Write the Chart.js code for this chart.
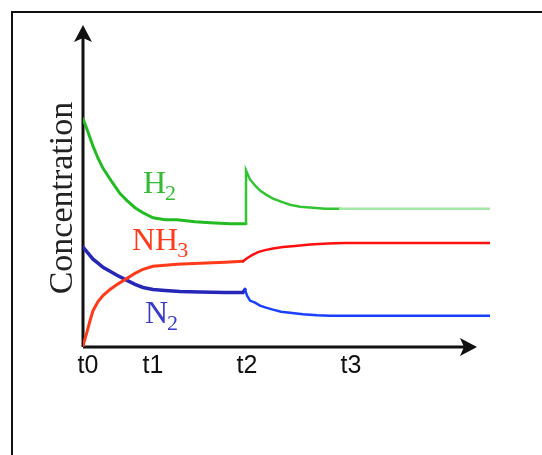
<!DOCTYPE html>
<html>
<head>
<meta charset="utf-8">
<script src="https://cdn.jsdelivr.net/npm/chart.js@4/dist/chart.umd.min.js"></script>
<style>
  html, body { margin:0; padding:0; background:#fff; overflow:hidden; }
  #frame { position:absolute; left:11px; top:11px; width:600px; height:520px; border:2px solid #111; }
  #c { position:absolute; left:0; top:0; }
</style>
</head>
<body>
<div id="frame"></div>
<canvas id="c" width="542" height="455"></canvas>
<script>
// time axis ticks
const tickTimes  = [0.5, 7, 16.4, 26.8];
const tickLabels = ['t0', 't1', 't2', 't3'];

// H2 (drops, jumps up at t2 when H2 is added, then settles)
const h2Time = [0, 0.5, 1, 1.5, 2, 3, 3.7, 4.4, 5.2, 6, 7, 8.2, 9.4, 11.2, 12.7, 14.7, 16.3,
                16.3, 16.7, 17.2, 17.7, 18.3, 19, 19.8, 20.7, 21.7, 23, 24.2, 25.7, 40.7];
const h2Conc = [22.6, 21.3, 19.9, 18.7, 17.7, 16.2, 15.2, 14.5, 13.8, 13.3, 12.8, 12.6, 12.6, 12.4, 12.3, 12.2, 12.2,
                17.5, 16.6, 16.0, 15.5, 15.1, 14.7, 14.4, 14.1, 13.9, 13.8, 13.7, 13.7, 13.7];

// NH3
const nh3Time = [0, 0.2, 0.4, 0.7, 1, 1.5, 2, 2.7, 3.4, 4.4, 5.2, 6, 7, 8.2, 9.4, 11.7, 14.2, 16,
                 16.4, 16.9, 17.5, 18.2, 19, 20, 21.2, 22.7, 24.5, 26.2, 40.7];
const nh3Conc = [0.1, 0.8, 1.5, 2.6, 3.6, 4.5, 5.1, 5.7, 6.2, 6.8, 7.3, 7.7, 8.0, 8.1, 8.2, 8.3, 8.4, 8.5,
                 8.8, 9.1, 9.4, 9.6, 9.75, 9.9, 10.0, 10.15, 10.25, 10.3, 10.3];

// N2
const n2Time = [0, 0.5, 1, 1.5, 2, 2.7, 3.4, 4.4, 5.2, 6, 7, 8.2, 9.7, 11.7, 14.2, 16, 16.2,
                16.4, 16.7, 17.2, 17.7, 18.3, 19, 19.8, 20.7, 22, 23.4, 24.7, 40.7];
const n2Conc = [9.9, 9.3, 8.7, 8.3, 7.9, 7.5, 7.1, 6.6, 6.2, 5.9, 5.7, 5.6, 5.5, 5.45, 5.4, 5.4, 5.7,
                5.1, 4.6, 4.4, 4.1, 3.9, 3.7, 3.5, 3.4, 3.25, 3.15, 3.1, 3.1];

// series labels (anchored in data units)
const seriesNames = ['H', 'NH', 'N'];
const seriesSubs  = ['2', '3', '2'];
const labelAt     = [[6.0, 15.3], [4.9, 9.6], [6.2, 2.4]];
const labelColors = ['#33bb33', '#ff3a1a', '#3a3acc'];

function pts(xs, ys){ return xs.map((x,i)=>({x:x, y:ys[i]})); }

// colour changes along each curve, like the scanned original
function seg(colors, cuts, widths){
  const pick = x => { let i = 0; while(i < cuts.length && x >= cuts[i]) i++; return i; };
  return {
    borderColor: ctx => colors[pick(ctx.p0.parsed.x)],
    borderWidth: ctx => widths[pick(ctx.p0.parsed.x)]
  };
}

const decor = {
  id: 'decor',
  beforeDatasetsDraw(chart){
    const {ctx, scales:{x, y}} = chart;
    const x0 = x.getPixelForValue(0), y0 = y.getPixelForValue(0);
    const xEnd = x.getPixelForValue(39.4), yEnd = y.getPixelForValue(31.9);
    ctx.save();
    ctx.strokeStyle = '#111'; ctx.fillStyle = '#111'; ctx.lineWidth = 3;
    ctx.beginPath();
    ctx.moveTo(x0, y0); ctx.lineTo(x0, yEnd + 8);
    ctx.moveTo(x0, y0); ctx.lineTo(xEnd - 8, y0);
    ctx.stroke();
    // arrow heads
    ctx.beginPath();
    ctx.moveTo(x0, yEnd); ctx.lineTo(x0 - 9, yEnd + 17); ctx.lineTo(x0, yEnd + 13); ctx.lineTo(x0 + 9, yEnd + 17);
    ctx.closePath(); ctx.fill();
    ctx.beginPath();
    ctx.moveTo(xEnd, y0); ctx.lineTo(xEnd - 17, y0 - 9); ctx.lineTo(xEnd - 13, y0); ctx.lineTo(xEnd - 17, y0 + 9);
    ctx.closePath(); ctx.fill();
    ctx.restore();
  },
  afterDraw(chart){
    const {ctx, chartArea, scales:{x, y}} = chart;
    ctx.save();
    // y title
    ctx.translate(chartArea.left - 11, (chartArea.top + chartArea.bottom)/2 + 12);
    ctx.rotate(-Math.PI/2);
    ctx.font = '34px "Liberation Serif"';
    ctx.fillStyle = '#222';
    ctx.textAlign = 'center'; ctx.textBaseline = 'alphabetic';
    ctx.fillText('Concentration', 0, 0);
    ctx.restore();

    ctx.save();
    ctx.textAlign = 'left'; ctx.textBaseline = 'alphabetic';
    seriesNames.forEach((name, i) => {
      const px = x.getPixelForValue(labelAt[i][0]);
      const py = y.getPixelForValue(labelAt[i][1]);
      ctx.fillStyle = labelColors[i];
      ctx.font = '32px "Liberation Serif"';
      ctx.fillText(name, px, py);
      const w = ctx.measureText(name).width;
      ctx.font = '22px "Liberation Serif"';
      ctx.fillText(seriesSubs[i], px + w - 1, py + 7);
    });
    ctx.restore();
  }
};

new Chart(document.getElementById('c'), {
  type: 'line',
  data: {
    datasets: [
      { label: 'H2', data: pts(h2Time, h2Conc), borderColor: '#22bb22',
        segment: seg(['#22bb22', '#33c433', '#a6e6a6'], [16.3, 24.7], [3, 2.5, 2.5]) },
      { label: 'NH3', data: pts(nh3Time, nh3Conc), borderColor: '#ff3a1a',
        segment: seg(['#ff3a1a', '#ff1010'], [16.0], [3, 2.5]) },
      { label: 'N2', data: pts(n2Time, n2Conc), borderColor: '#2626b8',
        segment: seg(['#2626b8', '#1a40ff', '#8c8ce6'], [16.2, 26.5], [3.5, 2.5, 2.5]) }
    ]
  },
  options: {
    responsive: false,
    animation: false,
    layout: { padding: { left: 83, right: 52, top: 25, bottom: 70 } },
    elements: { point: { radius: 0 }, line: { tension: 0, borderCapStyle: 'round' } },
    plugins: { legend: { display: false }, tooltip: { enabled: false } },
    scales: {
      x: {
        type: 'linear', min: 0, max: 40.7,
        grid: { display: false, drawTicks: false }, border: { display: false },
        afterBuildTicks: s => { s.ticks = tickTimes.map(v => ({ value: v })); },
        ticks: {
          autoSkip: false, maxRotation: 0, padding: 4, color: '#111',
          font: { family: '"Liberation Sans"', size: 25 },
          callback: (v, i) => tickLabels[i]
        }
      },
      y: { type: 'linear', min: 0, max: 31.9, display: false }
    }
  },
  plugins: [decor]
});
</script>
</body>
</html>
